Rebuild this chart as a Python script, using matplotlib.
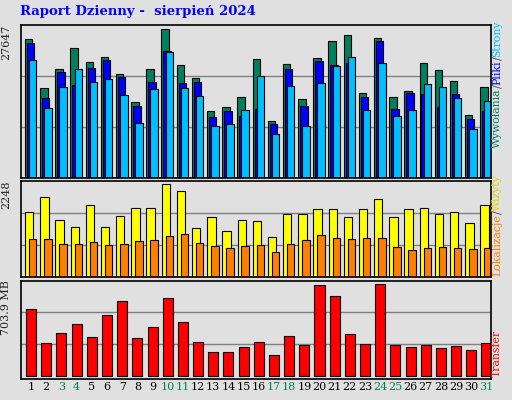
import matplotlib
matplotlib.use("Agg")
import matplotlib.pyplot as plt
import numpy as np

days = [str(i) for i in range(1, 32)]
weekend = [3, 4, 10, 11, 17, 18, 24, 25, 31]
hits = [25048,16189,19645,23465,20918,21828,18736,13642,19645,26921,20373,18008,12005,12733,14552,21464,10186,20554,14188,21646,24738,25829,15279,25284,14552,15643,20736,19463,17462,11277,16371]
files = [24374,14370,19099,16734,19827,21282,18190,12914,17280,22919,17098,17280,10914,12005,11096,12369,9640,19645,12914,21100,20373,20736,14552,24738,12369,15279,15097,12733,15097,10550,12005]
pages = [21282,12551,16371,19645,17280,17826,14915,9822,16007,22737,16189,14733,9277,9640,12187,18371,7821,16552,9277,17098,20190,21828,12187,20736,11096,12187,16916,16371,14370,8731,13824]
visits = [1525,1875,1338,1175,1688,1175,1432,1618,1618,2155,2015,1151,1408,1081,1338,1315,941,1478,1478,1595,1595,1408,1595,1828,1408,1595,1618,1478,1525,1268,1688]
locs = [895,895,778,778,825,755,778,848,871,965,1011,801,731,685,731,755,591,778,871,988,918,895,918,918,708,638,685,708,685,661,685]
transfer = [490,240,319,383,283,447,554,276,361,575,397,247,176,176,212,247,155,297,226,668,590,311,233,675,226,212,226,205,219,190,240]
max1, max2, max3 = 27647, 2248, 703.9

BG = "#e0e0e0"
W, H = 512, 400
fig = plt.figure(figsize=(W/100, H/100), dpi=100, facecolor=BG)
def axrect(x0, y0, x1, y1):
    return fig.add_axes([x0/W, 1-y1/H, (x1-x0)/W, (y1-y0)/H], facecolor=BG)

ax1 = axrect(20.5, 25, 491, 177.5)
ax2 = axrect(20.5, 180.5, 491, 277)
ax3 = axrect(20.5, 280.5, 491, 379)
x = np.arange(1, 32)
L = x - 0.5
kw = dict(align="edge", edgecolor="black", linewidth=0.8)
ax1.bar(L+0.29, hits, 0.49, color="#007f5f", **kw)
ax1.bar(L+0.42, files, 0.49, color="#0000ff", **kw)
ax1.bar(L+0.56, pages, 0.49, color="#00bfff", **kw)
ax2.bar(L+0.30, visits, 0.55, color="#ffff00", **kw)
ax2.bar(L+0.56, locs, 0.49, color="#ff8000", **kw)
ax3.bar(L+0.37, transfer, 0.66, color="#ff0000", **kw)

for ax, m, bot, lab in [(ax1, max1, 0, "27647"), (ax2, max2, 0, "2248"), (ax3, max3, -24, "703.9 MB")]:
    ax.set_xlim(0.5, 31.5)
    ax.set_ylim(bot, m*1.0)
    for f in (1/3, 2/3):
        ax.axhline(m*f, color="#808080", lw=1, zorder=0)
    ax.set_yticks([])
    ax.set_xticks([])
    for s in ax.spines.values():
        s.set_linewidth(1.2)
    ax.text(-0.03, 1.0, lab, transform=ax.transAxes, rotation=90, ha="center", va="top",
            family="DejaVu Serif", fontsize=8, color="#202020")

ax3.set_xticks(x + 0.2)
ax3.set_xticklabels(days, family="DejaVu Serif", fontsize=8)
ax3.tick_params(length=0, pad=2)
for t, d in zip(ax3.get_xticklabels(), x):
    if d in weekend:
        t.set_color("#008060")

fig.text(20/W, 1-12/H, "Raport Dzienny -  sierpień 2024", family="DejaVu Serif",
         fontweight="bold", color="#0000ff", fontsize=9.5, va="center")

fig.canvas.draw()
r = fig.canvas.get_renderer()
def stack(parts, xpx, ybot):
    y = ybot
    for s, c in parts:
        t = fig.text(xpx/W, 1-y/H, s, rotation=90, ha="center", va="bottom", color=c,
                     family="DejaVu Serif", fontsize=7.8)
        bb = t.get_window_extent(r)
        y -= bb.height
stack([("Wywołania", "#007f5f"), ("/", "#444444"), ("Pliki", "#0000ff"), ("/", "#444444"), ("Strony", "#00bfff")], 497, 148)
stack([("Lokalizacje", "#ff8000"), ("/", "#444444"), ("Wizyty", "#e0d000")], 497, 276)
stack([("Transfer", "#ff0000")], 497, 377)

fig.savefig("out.png", dpi=100, facecolor=BG)
